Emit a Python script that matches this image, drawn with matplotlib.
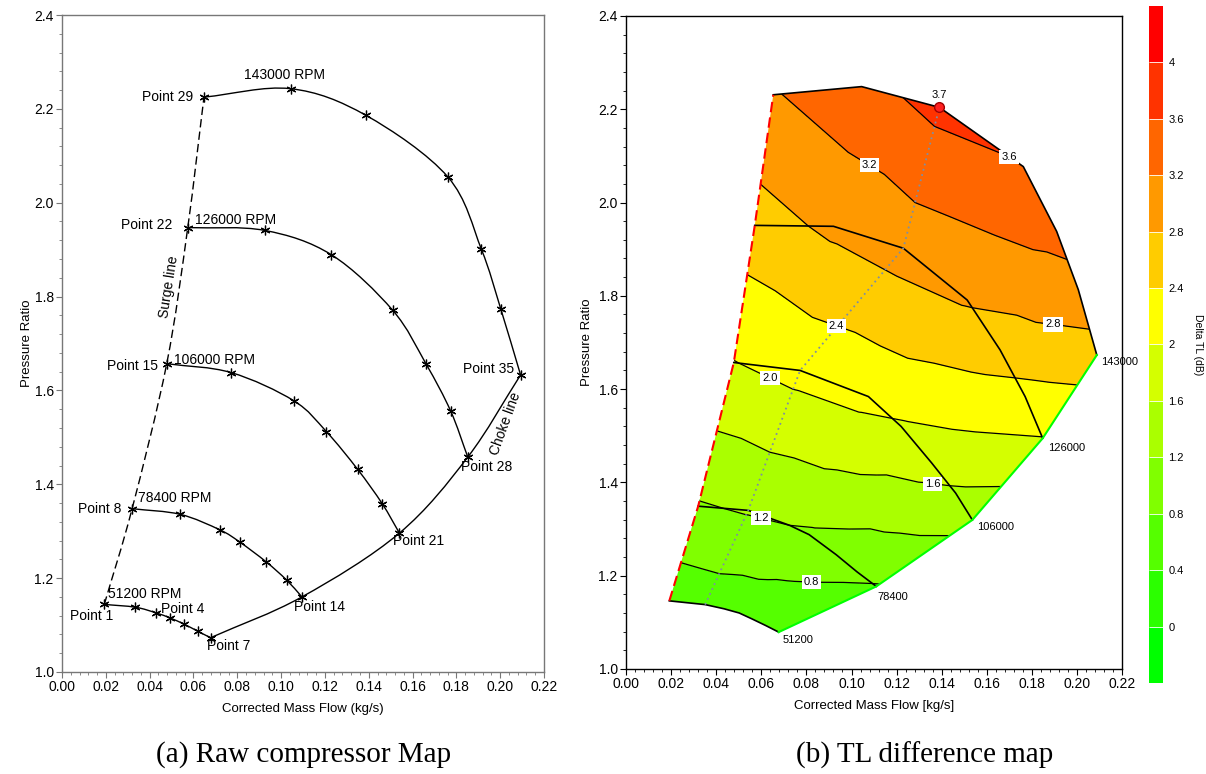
import numpy as np
import matplotlib
matplotlib.use('Agg')
import matplotlib.pyplot as plt
import matplotlib.tri as mtri
import matplotlib.patches as patches
import matplotlib.colorbar as mcolorbar
from matplotlib.path import Path
from matplotlib.colors import ListedColormap, BoundaryNorm
from matplotlib.ticker import MultipleLocator, FuncFormatter

plt.rcParams['font.family'] = ['Liberation Sans', 'DejaVu Sans']

# (a) raw compressor map: measured points per speed line
speed_rpm = [51200, 78400, 106000, 126000, 143000]
flow_51200 = [0.0193, 0.0335, 0.0429, 0.0494, 0.0557, 0.0619, 0.0678]
pr_51200 = [1.144, 1.138, 1.126, 1.115, 1.102, 1.087, 1.073]
flow_78400 = [0.0320, 0.0539, 0.0720, 0.0811, 0.0931, 0.1025, 0.1095]
pr_78400 = [1.348, 1.336, 1.303, 1.277, 1.235, 1.196, 1.160]
flow_106000 = [0.0478, 0.0772, 0.1058, 0.1207, 0.1349, 0.1461, 0.1540]
pr_106000 = [1.657, 1.638, 1.578, 1.512, 1.432, 1.359, 1.296]
flow_126000 = [0.0574, 0.0925, 0.1230, 0.1509, 0.1662, 0.1774, 0.1852]
pr_126000 = [1.947, 1.941, 1.889, 1.771, 1.656, 1.556, 1.458]
flow_143000 = [0.0648, 0.1043, 0.1388, 0.1761, 0.1914, 0.2003, 0.2093]
pr_143000 = [2.225, 2.243, 2.186, 2.055, 1.901, 1.773, 1.633]
point_numbers = [1, 8, 15, 22, 29]

# (b) TL difference map: operating points and delta TL (dB)
tl_flow_51200 = [0.0192, 0.0351, 0.0435, 0.0502, 0.0560, 0.0620, 0.0677]
tl_pr_51200 = [1.146, 1.138, 1.129, 1.120, 1.107, 1.093, 1.079]
dtl_51200 = [0.55, 0.59, 0.57, 0.55, 0.51, 0.46, 0.42]
tl_flow_78400 = [0.0320, 0.0542, 0.0725, 0.0812, 0.0932, 0.1025, 0.1110]
tl_pr_78400 = [1.349, 1.340, 1.308, 1.288, 1.245, 1.208, 1.177]
dtl_78400 = [1.17, 1.23, 1.20, 1.15, 1.01, 0.88, 0.78]
tl_flow_106000 = [0.0478, 0.0772, 0.1075, 0.1220, 0.1355, 0.1462, 0.1536]
tl_pr_106000 = [1.657, 1.640, 1.584, 1.520, 1.442, 1.377, 1.3195]
dtl_106000 = [1.99, 2.12, 2.11, 1.96, 1.755, 1.55, 1.33]
tl_flow_126000 = [0.0571, 0.0920, 0.1230, 0.1513, 0.1659, 0.1770, 0.1848]
tl_pr_126000 = [1.951, 1.949, 1.902, 1.791, 1.684, 1.584, 1.4946]
dtl_126000 = [2.63, 2.88, 2.96, 2.84, 2.58, 2.28, 1.99]
tl_flow_143000 = [0.0653, 0.1045, 0.1390, 0.1762, 0.1910, 0.2006, 0.2088]
tl_pr_143000 = [2.231, 2.2485, 2.204, 2.077, 1.938, 1.813, 1.673]
dtl_143000 = [3.17, 3.485, 3.70, 3.58, 3.33, 3.06, 2.63]

band_bounds = [-0.4, 0.0, 0.4, 0.8, 1.2, 1.6, 2.0, 2.4, 2.8, 3.2, 3.6, 4.0, 4.4]
band_colors = ['#00ff00', '#2bff00', '#55ff00', '#80ff00', '#aaff00', '#d4ff00',
               '#ffff00', '#ffcc00', '#ff9900', '#ff6600', '#ff3300', '#ff0000']
line_levels = [0.4, 0.8, 1.2, 1.6, 2.0, 2.4, 2.8, 3.2, 3.6, 4.0]
label_spots = [(0.1063, 2.066), (0.170, 2.081), (0.1893, 1.737), (0.092, 1.717),
               (0.063, 1.616), (0.1358, 1.393), (0.0596, 1.316), (0.0823, 1.186)]


def smooth_path(x, y):
    pts = np.column_stack([x, y])
    tang = np.zeros_like(pts)
    tang[1:-1] = (pts[2:] - pts[:-2]) / 2
    tang[0] = pts[1] - pts[0]
    tang[-1] = pts[-1] - pts[-2]
    verts = [pts[0]]
    codes = [Path.MOVETO]
    for i in range(len(pts) - 1):
        verts += [pts[i] + tang[i] / 3, pts[i + 1] - tang[i + 1] / 3, pts[i + 1]]
        codes += [Path.CURVE4] * 3
    return Path(verts, codes)


def style_axes(ax, spine_color):
    ax.set_xlim(0, 0.22)
    ax.set_ylim(1.0, 2.4)
    ax.xaxis.set_major_locator(MultipleLocator(0.02))
    ax.xaxis.set_minor_locator(MultipleLocator(0.004))
    ax.yaxis.set_major_locator(MultipleLocator(0.2))
    ax.yaxis.set_minor_locator(MultipleLocator(0.04))
    ax.xaxis.set_major_formatter(FuncFormatter(lambda v, p: f'{v:.2f}'))
    ax.yaxis.set_major_formatter(FuncFormatter(lambda v, p: f'{v:.1f}'))
    ax.tick_params(which='both', direction='out', top=False, right=False,
                   color=spine_color, labelsize=10, pad=2)
    ax.tick_params(which='major', length=4)
    ax.tick_params(which='minor', length=2)
    for s in ax.spines.values():
        s.set_color(spine_color)
        s.set_linewidth(1.0)


fig = plt.figure(figsize=(12.06, 7.74), dpi=100)

# ---------------- (a) raw compressor map
ax1 = fig.add_axes([0.0514, 0.1318, 0.3997, 0.8488])
style_axes(ax1, '#777777')

flows = [flow_51200, flow_78400, flow_106000, flow_126000, flow_143000]
prs = [pr_51200, pr_78400, pr_106000, pr_126000, pr_143000]
for fl, pr in zip(flows, prs):
    ax1.add_patch(patches.PathPatch(smooth_path(fl, pr), fill=False, lw=1.0, ec='black'))
    ax1.plot(fl, pr, ls='none', marker=(6, 2, 0), ms=7, mec='black', mew=0.9)

surge_x = [f[0] for f in flows]
surge_y = [p[0] for p in prs]
choke_x = [f[-1] for f in flows]
choke_y = [p[-1] for p in prs]
ax1.add_patch(patches.PathPatch(smooth_path(surge_x, surge_y), fill=False, lw=1.0,
                                ec='black', ls=(0, (6, 3))))
ax1.add_patch(patches.PathPatch(smooth_path(choke_x, choke_y), fill=False, lw=1.0, ec='black'))

speed_offsets = [(2.7, 7.4, 'left'), (4.4, 7.8, 'left'), (5.5, 2.4, 'left'),
                 (5.3, 5.7, 'left'), (-4, 9.8, 'center')]
for i, (fl, pr) in enumerate(zip(flows, prs)):
    k = 1 if i == 4 else 0
    dx, dy, ha = speed_offsets[i]
    ax1.annotate(f'{speed_rpm[i]} RPM', (fl[k], pr[k]), xytext=(dx, dy),
                 textcoords='offset points', ha=ha, va='center', fontsize=10)

start_offsets = [(6.5, -8.5, 'right'), (-7.4, 0, 'right'), (-6.5, -1.4, 'right'),
                 (-11, 2, 'right'), (-7.6, 0, 'right')]
end_offsets = [(-2.8, -5.7, 'left'), (-6, -7.4, 'left'), (-4.7, -6, 'left'),
               (-5, -7.4, 'left'), (-4.4, 4, 'right')]
for i, (fl, pr) in enumerate(zip(flows, prs)):
    dx, dy, ha = start_offsets[i]
    ax1.annotate(f'Point {point_numbers[i]}', (fl[0], pr[0]), xytext=(dx, dy),
                 textcoords='offset points', ha=ha, va='center', fontsize=10)
    dx, dy, ha = end_offsets[i]
    ax1.annotate(f'Point {point_numbers[i] + len(fl) - 1}', (fl[-1], pr[-1]), xytext=(dx, dy),
                 textcoords='offset points', ha=ha, va='center', fontsize=10)
ax1.annotate('Point 4', (flow_51200[3], pr_51200[3]), xytext=(-6.6, 6.4),
             textcoords='offset points', ha='left', va='center', fontsize=10)

ax1.text(0.049, 1.82, 'Surge line', rotation=81, ha='center', va='center', fontsize=10)
ax1.text(0.2025, 1.529, 'Choke line', rotation=70, ha='center', va='center', fontsize=10)
ax1.set_xlabel('Corrected Mass Flow (kg/s)', fontsize=9.5, labelpad=6)
ax1.set_ylabel('Pressure Ratio', fontsize=9.5, labelpad=1)

# ---------------- (b) TL difference map
ax2 = fig.add_axes([0.5191, 0.1357, 0.4113, 0.8437])
style_axes(ax2, 'black')

tl_flows = [tl_flow_51200, tl_flow_78400, tl_flow_106000, tl_flow_126000, tl_flow_143000]
tl_prs = [tl_pr_51200, tl_pr_78400, tl_pr_106000, tl_pr_126000, tl_pr_143000]
dtls = [dtl_51200, dtl_78400, dtl_106000, dtl_126000, dtl_143000]
px = np.concatenate(tl_flows)
py = np.concatenate(tl_prs)
pz = np.concatenate(dtls)

# triangulate in normalised coordinates so the triangles follow the plot aspect
base = mtri.Triangulation(px / 0.22, py / 1.4)
tri = mtri.Triangulation(px, py, triangles=base.triangles)

cmap = ListedColormap(band_colors)
norm = BoundaryNorm(band_bounds, cmap.N)

surge = [(f[0], p[0]) for f, p in zip(tl_flows, tl_prs)]
choke = [(f[-1], p[-1]) for f, p in zip(tl_flows, tl_prs)]
outline = (surge + list(zip(tl_flow_143000, tl_pr_143000))[1:] + choke[::-1][1:]
           + list(zip(tl_flow_51200, tl_pr_51200))[::-1][1:-1])
domain = patches.Polygon(outline, closed=True, transform=ax2.transData)

cf = ax2.tricontourf(tri, pz, levels=band_bounds, cmap=cmap, norm=norm)
cf.set_clip_path(domain)
cl = ax2.tricontour(tri, pz, levels=line_levels, colors='black', linewidths=0.9)
cl.set_clip_path(domain)
labels = ax2.clabel(cl, manual=label_spots, inline=False, fmt='%.1f', fontsize=8)
for t in labels:
    t.set_rotation(0)
    t.set_bbox(dict(facecolor='white', edgecolor='none', pad=1.5))

for fl, pr in zip(tl_flows, tl_prs):
    ax2.plot(fl, pr, color='black', lw=1.2)
ax2.plot(*zip(*surge), color='#ff0000', lw=1.5, ls=(0, (5, 2.5)))
ax2.plot(*zip(*choke), color='#00ff00', lw=1.5)

peak = [int(np.argmax(d)) for d in dtls]
ax2.plot([f[k] for f, k in zip(tl_flows, peak)], [p[k] for p, k in zip(tl_prs, peak)],
         color='#7f8ea3', lw=1.3, ls=(0, (1, 2)))
top = int(np.argmax(pz))
ax2.plot(px[top], py[top], 'o', ms=7, mfc='#ff2020', mec='#a00000', mew=1)
ax2.annotate(f'{pz[top]:.1f}', (px[top], py[top]), xytext=(0, 9), textcoords='offset points',
             ha='center', va='center', fontsize=8)

speed_tags = [(2.9, -6), (1, -7.7), (3.2, -5.2), (3.6, -6.9), (3.2, -5)]
for i, (fl, pr) in enumerate(zip(tl_flows, tl_prs)):
    ax2.annotate(str(speed_rpm[i]), (fl[-1], pr[-1]), xytext=speed_tags[i],
                 textcoords='offset points', ha='left', va='center', fontsize=8)

ax2.set_xlabel('Corrected Mass Flow [kg/s]', fontsize=9.5, labelpad=6)
ax2.set_ylabel('Pressure Ratio', fontsize=9.5, labelpad=4)

cax = fig.add_axes([0.9527, 0.1176, 0.0116, 0.8747])
cb = mcolorbar.ColorbarBase(cax, cmap=cmap, norm=norm, boundaries=band_bounds,
                            ticks=band_bounds[1:-1], drawedges=True)
cb.minorticks_off()
cb.outline.set_visible(False)
cb.dividers.set_color('white')
cb.dividers.set_linewidth(0.6)
cb.ax.tick_params(which='both', length=0, labelsize=8, pad=4)
cb.ax.yaxis.set_major_formatter(FuncFormatter(lambda v, p: f'{round(v, 1):g}'))
cb.set_label('Delta TL (dB)', rotation=270, fontsize=7.5, labelpad=14)

fig.text(304 / 1206, 1 - 755 / 774, '(a) Raw compressor Map', ha='center', va='center',
         fontsize=21, family='Liberation Serif')
fig.text(925 / 1206, 1 - 755 / 774, '(b) TL difference map', ha='center', va='center',
         fontsize=21, family='Liberation Serif')

fig.savefig('out.png', dpi=100)
